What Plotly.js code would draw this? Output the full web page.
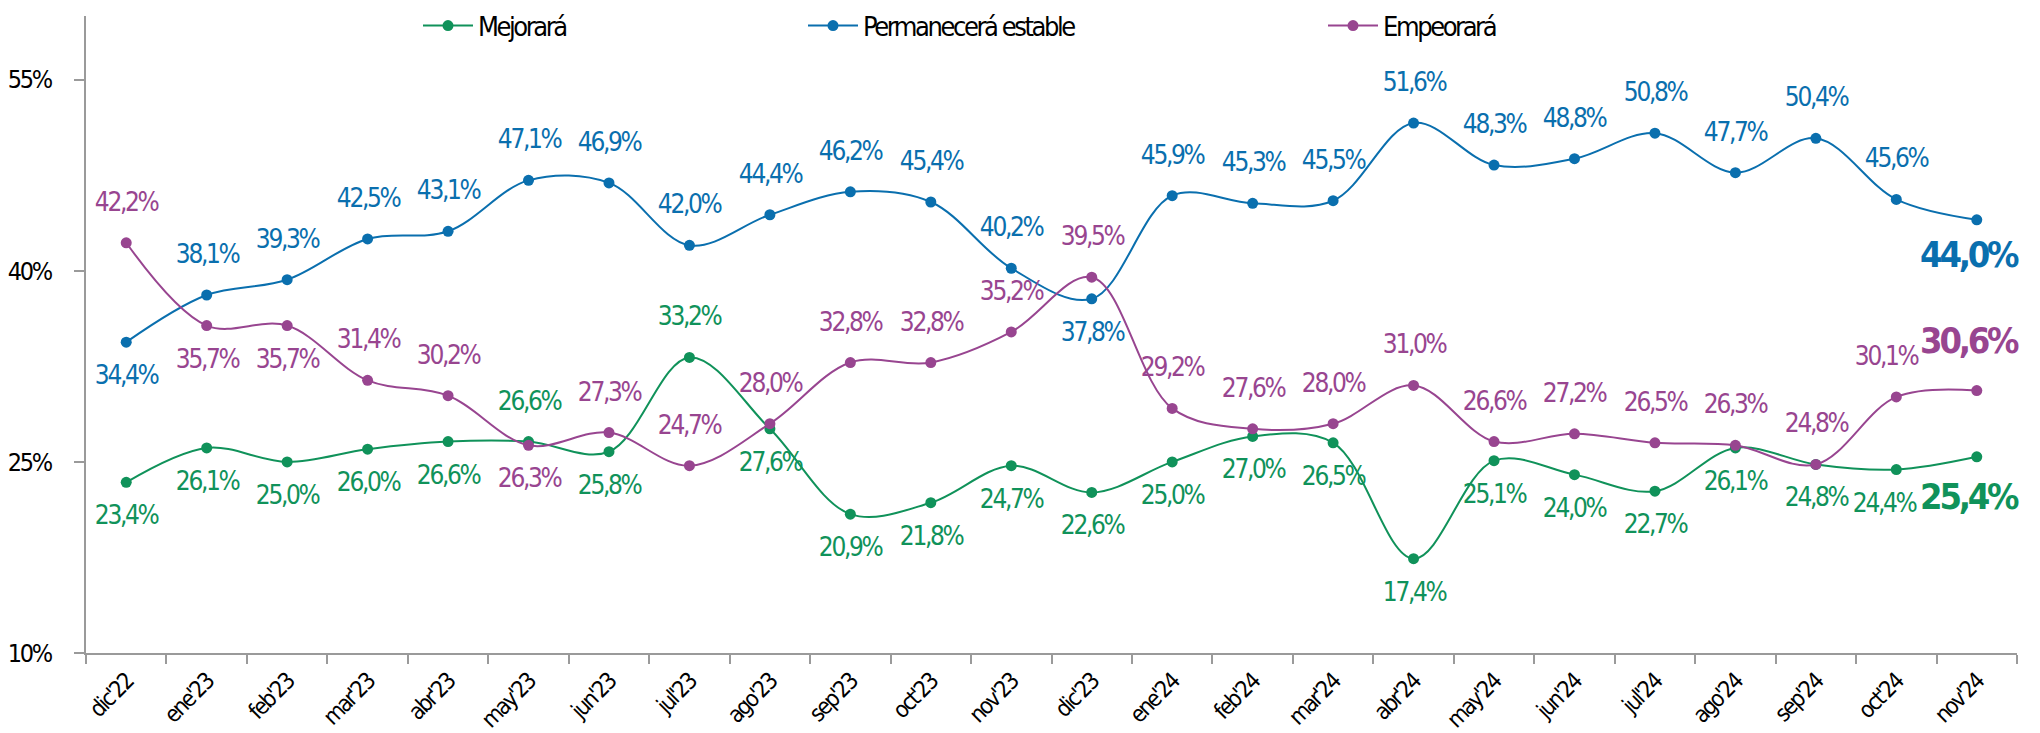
<!DOCTYPE html>
<html>
<head>
<meta charset="utf-8">
<script src="https://cdn.plot.ly/plotly-3.0.1.min.js"></script>
<style>
html,body{margin:0;padding:0;background:#fff;}
#chart{width:2040px;height:733px;}
#chart text{letter-spacing:-0.09em;}
</style>
</head>
<body>
<div id="chart"></div>
<script>
const months = ["dic'22","ene'23","feb'23","mar'23","abr'23","may'23","jun'23","jul'23","ago'23","sep'23","oct'23","nov'23","dic'23","ene'24","feb'24","mar'24","abr'24","may'24","jun'24","jul'24","ago'24","sep'24","oct'24","nov'24"];
const mejorara = [23.4,26.1,25.0,26.0,26.6,26.6,25.8,33.2,27.6,20.9,21.8,24.7,22.6,25.0,27.0,26.5,17.4,25.1,24.0,22.7,26.1,24.8,24.4,25.4];
const estable = [34.4,38.1,39.3,42.5,43.1,47.1,46.9,42.0,44.4,46.2,45.4,40.2,37.8,45.9,45.3,45.5,51.6,48.3,48.8,50.8,47.7,50.4,45.6,44.0];
const empeorara = [42.2,35.7,35.7,31.4,30.2,26.3,27.3,24.7,28.0,32.8,32.8,35.2,39.5,29.2,27.6,28.0,31.0,26.6,27.2,26.5,26.3,24.8,30.1,30.6];
const yTicks = [10,25,40,55];
const yTickText = ["10%","25%","40%","55%"];
const seriesNames = ["Mejorará","Permanecerá estable","Empeorará"];

// label placement (style): 'a' = above, 'b' = below
const posMejorara = ['b','b','b','b','b','a','b','a','b','b','b','b','b','b','b','b','b','b','b','b','b','b','b','b'];
const posEstable  = ['b','a','a','a','a','a','a','a','a','a','a','a','b','a','a','a','a','a','a','a','a','a','a','b'];
const posEmpeorara= ['a','b','b','a','a','b','a','a','a','a','a','a','a','a','a','a','a','a','a','a','a','a','a','a'];

const cGreen = '#10925a', cBlue = '#0a6fae', cPurple = '#984590';
const FONT = '"DejaVu Sans Condensed", "Liberation Sans Narrow", sans-serif';

function mk(name, y, color, legendId){
  return {
    type:'scatter', mode:'lines+markers', name:name, x:months, y:y,
    line:{color:color, width:2, shape:'spline', smoothing:1},
    marker:{color:color, size:11},
    legend:legendId, hoverinfo:'skip', cliponaxis:false
  };
}
const traces = [
  mk(seriesNames[0], mejorara, cGreen, 'legend'),
  mk(seriesNames[1], estable, cBlue, 'legend2'),
  mk(seriesNames[2], empeorara, cPurple, 'legend3')
];

const fmt = v => v.toFixed(1).replace('.', ',') + '%';
const annotations = [];
function addLabels(vals, pos, color, lastShift, prevXShift){
  const n = vals.length;
  vals.forEach((v,i)=>{
    const last = i === n-1;
    const above = pos[i] === 'a';
    annotations.push({
      x: months[i], y: v, xref:'x', yref:'y', text: last ? '<b>'+fmt(v)+'</b>' : fmt(v),
      showarrow:false, xanchor:'center', yanchor:'middle',
      yshift: last ? lastShift : (above ? 41 : -33),
      xshift: last ? -9 : (i === n-2 ? prevXShift : 0),
      font:{family:FONT, size: last ? 36 : 26, color:color}
    });
  });
}
addLabels(mejorara, posMejorara, cGreen, -40, -12);
addLabels(estable, posEstable, cBlue, -35, 0);
addLabels(empeorara, posEmpeorara, cPurple, 50, -10);

const legendBase = {orientation:'h', xref:'container', yref:'container', yanchor:'middle', xanchor:'left',
  y: 1 - 26/733, font:{family:FONT, size:27, color:'#000'}, bgcolor:'rgba(0,0,0,0)', borderwidth:0, itemwidth:50};

const layout = {
  width:2040, height:733,
  margin:{l:86, r:23, t:16, b:80, autoexpand:false},
  paper_bgcolor:'#fff', plot_bgcolor:'#fff',
  font:{family:FONT, color:'#000'},
  showlegend:true,
  legend: Object.assign({}, legendBase, {x:(418)/2040}),
  legend2: Object.assign({}, legendBase, {x:(803)/2040}),
  legend3: Object.assign({}, legendBase, {x:(1323)/2040}),
  xaxis:{
    type:'category', range:[-0.5, 23.5], showline:true, linecolor:'#9a9a9a', linewidth:2,
    ticks:'outside', tickson:'boundaries', ticklen:9, tickwidth:2, tickcolor:'#9a9a9a',
    tickangle:-45, tickfont:{family:FONT, size:23, color:'#000'}, showgrid:false, zeroline:false,
    ticklabelstandoff:4, fixedrange:true
  },
  yaxis:{
    range:[10,60], tickvals:yTicks, ticktext:yTickText, showline:true, linecolor:'#9a9a9a', linewidth:2,
    ticks:'outside', ticklen:10, tickwidth:2, tickcolor:'#9a9a9a', ticklabelstandoff:18,
    tickfont:{family:FONT, size:25, color:'#000'}, showgrid:false, zeroline:false, fixedrange:true
  },
  annotations: annotations
};

Plotly.newPlot('chart', traces, layout, {displayModeBar:false, staticPlot:true});
</script>
</body>
</html>
